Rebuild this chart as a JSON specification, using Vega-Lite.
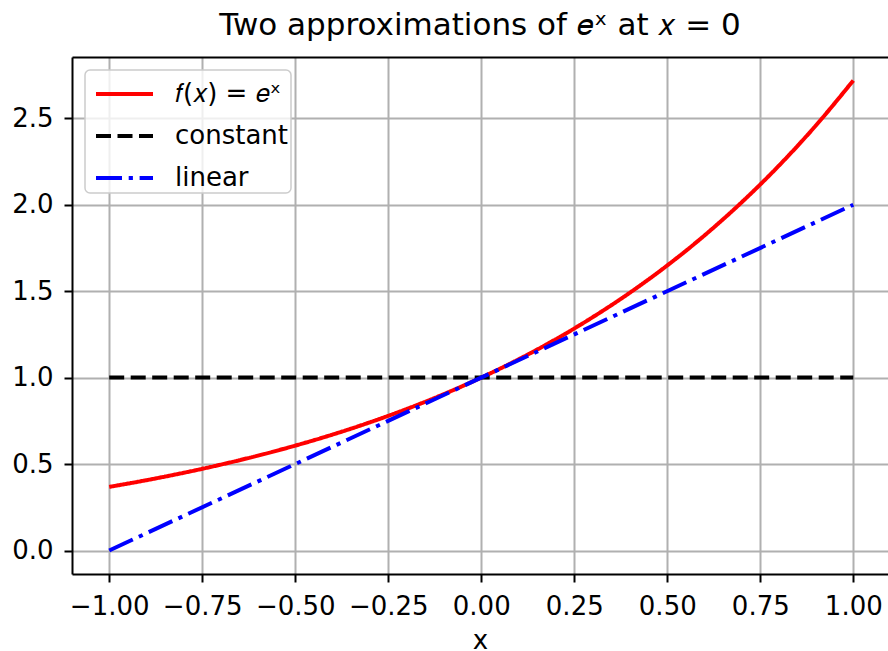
{
  "$schema": "https://vega.github.io/schema/vega-lite/v6.json",
  "autosize": {"type": "none"},
  "padding": {"left": 72, "top": 57, "right": 0, "bottom": 77},
  "width": 816,
  "height": 517,
  "background": "white",
  "title": {
    "text": "Two approximations of 𝑒ˣ at 𝑥 = 0",
    "font": "DejaVu Sans",
    "fontSize": 31,
    "fontWeight": "normal",
    "color": "black",
    "baseline": "alphabetic",
    "offset": -9,
    "anchor": "middle"
  },
  "datasets": {
    "lines": [
      {"series": "exp", "x": -1.0, "y": 0.3679},
      {"series": "exp", "x": -0.9, "y": 0.4066},
      {"series": "exp", "x": -0.8, "y": 0.4493},
      {"series": "exp", "x": -0.7, "y": 0.4966},
      {"series": "exp", "x": -0.6, "y": 0.5488},
      {"series": "exp", "x": -0.5, "y": 0.6065},
      {"series": "exp", "x": -0.4, "y": 0.6703},
      {"series": "exp", "x": -0.3, "y": 0.7408},
      {"series": "exp", "x": -0.2, "y": 0.8187},
      {"series": "exp", "x": -0.1, "y": 0.9048},
      {"series": "exp", "x": 0.0, "y": 1.0},
      {"series": "exp", "x": 0.1, "y": 1.1052},
      {"series": "exp", "x": 0.2, "y": 1.2214},
      {"series": "exp", "x": 0.3, "y": 1.3499},
      {"series": "exp", "x": 0.4, "y": 1.4918},
      {"series": "exp", "x": 0.5, "y": 1.6487},
      {"series": "exp", "x": 0.6, "y": 1.8221},
      {"series": "exp", "x": 0.7, "y": 2.0138},
      {"series": "exp", "x": 0.8, "y": 2.2255},
      {"series": "exp", "x": 0.9, "y": 2.4596},
      {"series": "exp", "x": 1.0, "y": 2.7183},
      {"series": "constant", "x": -1.0, "y": 1.0},
      {"series": "constant", "x": 1.0, "y": 1.0},
      {"series": "linear", "x": -1.0, "y": 0.0},
      {"series": "linear", "x": 1.0, "y": 2.0}
    ]
  },
  "data": {"name": "lines"},
  "layer": [
    {
      "mark": {"type": "line", "strokeWidth": 4, "interpolate": "monotone", "clip": true},
      "encoding": {
        "x": {
          "field": "x", "type": "quantitative",
          "scale": {"domain": [-1.1, 1.0933], "nice": false, "zero": false},
          "axis": {
            "orient": "bottom",
            "values": [-1, -0.75, -0.5, -0.25, 0, 0.25, 0.5, 0.75, 1],
            "format": ".2f",
            "title": "x",
            "titleY": 74,
            "titleBaseline": "alphabetic",
            "labelPadding": 11
          }
        },
        "y": {
          "field": "y", "type": "quantitative",
          "scale": {"domain": [-0.1359, 2.8542], "nice": false, "zero": false},
          "axis": {
            "orient": "left",
            "values": [0, 0.5, 1, 1.5, 2, 2.5],
            "format": ".1f",
            "title": null,
            "labelPadding": 11
          }
        },
        "color": {
          "field": "series", "type": "nominal",
          "scale": {"domain": ["exp", "constant", "linear"], "range": ["#ff0000", "#000000", "#0000ff"]},
          "legend": {
            "title": null,
            "orient": "none",
            "legendX": 13,
            "legendY": 13,
            "labelExpr": "datum.value == 'exp' ? '𝑓(𝑥) = 𝑒ˣ' : datum.value"
          }
        },
        "strokeDash": {
          "field": "series", "type": "nominal",
          "scale": {"domain": ["exp", "constant", "linear"], "range": [[1, 0], [15, 6.5], [26, 6.7, 4.2, 6.7]]},
          "legend": {
            "title": null,
            "orient": "none",
            "legendX": 13,
            "legendY": 13,
            "labelExpr": "datum.value == 'exp' ? '𝑓(𝑥) = 𝑒ˣ' : datum.value"
          }
        },
        "order": {"field": "x", "type": "quantitative"}
      }
    },
    {
      "mark": {"type": "point", "opacity": 0},
      "encoding": {
        "x": {
          "field": "x", "type": "quantitative",
          "axis": {"orient": "top", "labels": false, "ticks": false, "grid": false, "title": null}
        }
      }
    }
  ],
  "resolve": {"axis": {"x": "independent"}},
  "config": {
    "view": {"stroke": null},
    "font": "DejaVu Sans",
    "axis": {
      "labelFont": "DejaVu Sans",
      "labelFontSize": 26,
      "labelColor": "black",
      "titleFont": "DejaVu Sans",
      "titleFontSize": 26,
      "titleFontWeight": "normal",
      "titleColor": "black",
      "domainColor": "black",
      "domainWidth": 2,
      "tickColor": "black",
      "tickWidth": 2,
      "tickSize": 8,
      "gridColor": "#b0b0b0",
      "gridWidth": 2,
      "grid": true,
      "labelFlush": false,
      "labelOverlap": false
    },
    "legend": {
      "symbolType": "M-0.65,0H2.2",
      "symbolSize": 1600,
      "symbolStrokeWidth": 4,
      "labelFont": "DejaVu Sans",
      "labelFontSize": 26,
      "labelColor": "black",
      "labelOffset": 44,
      "labelLimit": 400,
      "padding": 2,
      "rowPadding": 7,
      "fillColor": "rgba(255,255,255,0.8)",
      "strokeColor": "#cccccc",
      "strokeWidth": 1.5,
      "cornerRadius": 5
    }
  }
}
